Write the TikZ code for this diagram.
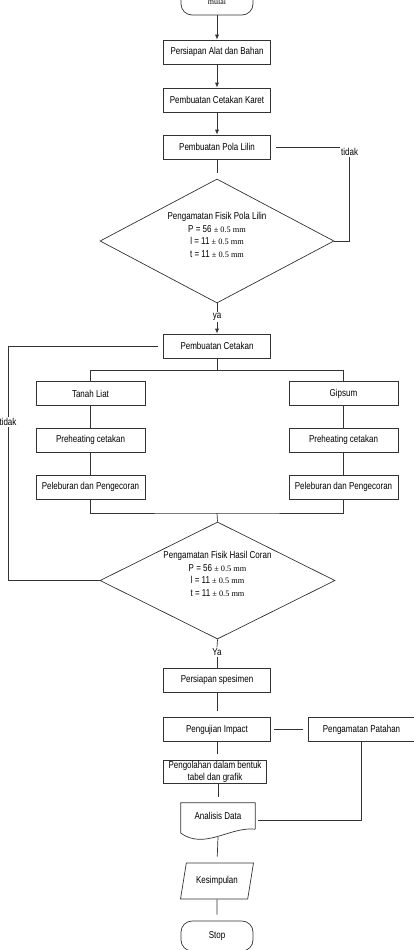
\documentclass[tikz,border=0pt]{standalone}
\usepackage{fontspec}
\setmainfont{Liberation Sans}[FakeStretch=0.8]
\newfontfamily\timesfont{Liberation Serif}
\usetikzlibrary{shapes.geometric,arrows.meta}
\newcommand{\tol}{{\timesfont\fontsize{8.3}{10}\selectfont ± 0.5 mm}}

\begin{document}
\begin{tikzpicture}[x=1pt,y=-1pt,
	proses/.style={rectangle, draw=black!80, line width=0.7pt, minimum width=107pt, minimum height=24pt, inner sep=1pt},
	cabang/.style={proses, minimum width=109pt},
	ujung/.style={rectangle, rounded corners=11pt, draw=black!80, line width=0.7pt, minimum width=72pt, minimum height=30pt},
	keputusan/.style={diamond, draw=black!80, line width=0.7pt, inner sep=0pt},
	isian/.style={align=center, font=\fontsize{10}{12.5}\selectfont},
	data/.style={trapezium, trapezium left angle=70, trapezium right angle=110, trapezium stretches body, draw=black!80, line width=0.7pt, minimum width=73pt, minimum height=36pt},
	ket/.style={inner sep=1pt, fill=white},
	garis/.style={draw=black!80, line width=0.7pt},
	panah/.style={garis, -{Latex[length=5pt,width=4pt]}},
	]
	\useasboundingbox (0,0) rectangle (414,950);
	
	%Nodes
	\node[ujung, minimum height=26pt] (mulai) at (217,2) {\timesfont\fontsize{8}{9}\selectfont mulai};
	\node[proses]		(alat)		at (217,52)		{Persiapan Alat dan Bahan};
	\node[proses]		(karet)		at (217,100)	{Pembuatan Cetakan Karet};
	\node[proses]		(lilin)		at (217,147)	{Pembuatan Pola Lilin};
	\node[keputusan, minimum width=234pt, minimum height=124pt] (cekLilin) at (217,241) {};
	\node[isian]		(teksLilin)	at (217,235)	{Pengamatan Fisik Pola Lilin\\P = 56 \tol\\l = 11 \tol\\t = 11 \tol};
	\node[ket, anchor=north west] (tidakA) at (340,147) {tidak};
	\node[ket]			(ya)		at (217,317)	{ya};
	\node[proses]		(cetakan)	at (217,346)	{Pembuatan Cetakan};
	\node[cabang]		(tanah)		at (90.5,393.5)	{Tanah Liat};
	\node[cabang]		(gipsum)	at (343.5,393.5) {Gipsum};
	\node[cabang]		(panasA)	at (90.5,440)	{Preheating cetakan};
	\node[cabang]		(panasB)	at (343.5,440)	{Preheating cetakan};
	\node[cabang]		(leburA)	at (90.5,487)	{Peleburan dan Pengecoran};
	\node[cabang]		(leburB)	at (343.5,487)	{Peleburan dan Pengecoran};
	\coordinate			(gabung)	at (217,513);
	\node[keputusan, minimum width=235pt, minimum height=117pt] (cekCoran) at (217.5,580.5) {};
	\node[isian]		(teksCoran)	at (217.5,574)	{Pengamatan Fisik Hasil Coran\\P = 56 \tol\\l = 11 \tol\\t = 11 \tol};
	\node[ket]			(tidakB)	at (8,422)		{tidak};
	\node[ket]			(ya2)		at (217,652)	{Ya};
	\node[proses]		(spesimen)	at (217,680)	{Persiapan spesimen};
	\node[proses]		(impact)	at (217,729.5)	{Pengujian Impact};
	\node[proses]		(patahan)	at (361.5,729.5) {Pengamatan Patahan};
	\node[proses, minimum width=103pt, minimum height=23pt, inner sep=0pt, align=center] (olah) at (215,771.5) {Pengolahan dalam bentuk\\tabel dan grafik};
	\node[minimum width=74pt, minimum height=26pt] (analisis) at (218,816) {Analisis Data};
	\node[data]			(simpul)	at (217,881)	{Kesimpulan};
	\node[ujung]		(stop)		at (217,936)	{Stop};
	
	%Document shape
	\draw[garis] (analisis.south east) -- (analisis.north east) -- (analisis.north west) -- ([yshift=-4pt]analisis.south west)
		.. controls ([xshift=24pt,yshift=-21pt]analisis.south west) and ([xshift=-25pt,yshift=3pt]analisis.south east) .. (analisis.south east);
	
	%Lines
	\draw[panah] (mulai.south) -- (alat.north);
	\draw[panah] (alat.south) -- (karet.north);
	\draw[panah] (karet.south) -- (lilin.north);
	\draw[garis, shorten >=6pt] (lilin.south) -- (cekLilin.north);
	\draw[garis] ([xshift=5pt]lilin.east) -- (tidakA.north west);
	\draw[garis] (tidakA.south) |- (cekLilin.east);
	\draw[garis] (cekLilin.south) -- (ya.north);
	\draw[panah] (ya.south) -- (cetakan.north);
	\draw[garis] (cetakan.south) -- ++(0,12) -| (tanah.north);
	\draw[garis] (cetakan.south) ++(0,12) -| (gipsum.north);
	\draw[garis] (tanah.south) -- (panasA.north);
	\draw[garis] (panasA.south) -- (leburA.north);
	\draw[garis] (gipsum.south) -- (panasB.north);
	\draw[garis] (panasB.south) -- (leburB.north);
	\draw[garis] (leburA.south) |- (gabung) -| (leburB.south);
	\draw[garis] (gabung) -- (cekCoran.north);
	\draw[garis] (cekCoran.west) -| (tidakB.south);
	\draw[garis] (tidakB.north) |- ([xshift=-5pt]cetakan.west);
	\draw[garis] (cekCoran.south) -- (ya2.north);
	\draw[garis] (ya2.south) -- (spesimen.north);
	\draw[garis, shorten >=6pt] (spesimen.south) -- (impact.north);
	\draw[garis, shorten <=3pt, shorten >=5pt] (impact.east) -- (patahan.west);
	\draw[garis, shorten >=6pt] (impact.south) -- (impact.south |- olah.north);
	\draw[garis, shorten >=6pt] (analisis.north |- olah.south) -- (analisis.north);
	\draw[garis, shorten >=6pt] ([yshift=-8pt]analisis.south) -- (simpul.north);
	\draw[garis, shorten >=6pt] (simpul.south) -- (stop.north);
	\draw[garis, shorten <=3pt] ([yshift=-4pt]analisis.east) -| (patahan.south);
	
\end{tikzpicture}
\end{document}
